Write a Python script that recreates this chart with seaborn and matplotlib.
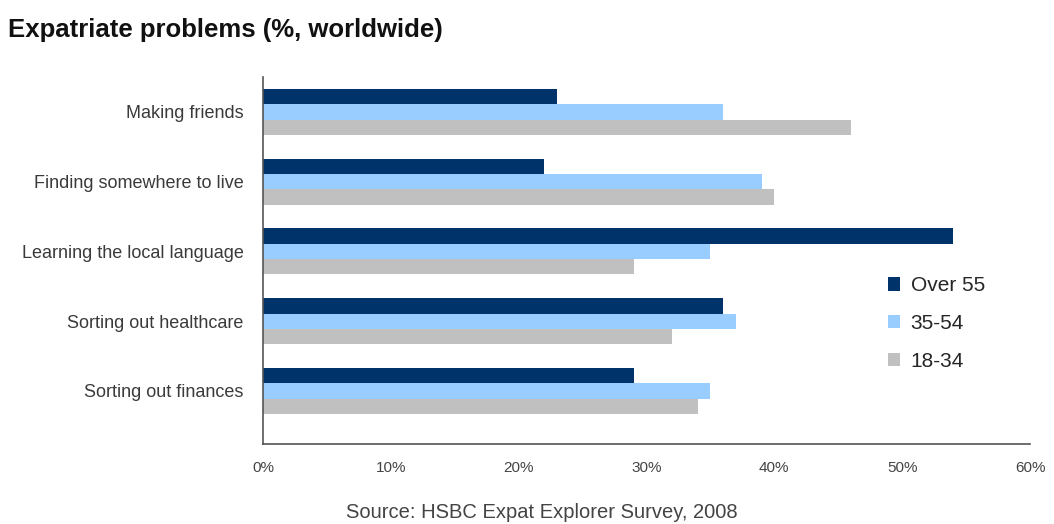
import matplotlib
matplotlib.use("Agg")
import matplotlib.pyplot as plt
from matplotlib.patches import Patch
import seaborn as sns
import pandas as pd
from matplotlib.ticker import FuncFormatter

categories = ["Making friends", "Finding somewhere to live", "Learning the local language",
              "Sorting out healthcare", "Sorting out finances"]
series_names = ["Over 55", "35-54", "18-34"]
over_55 = [23, 22, 54, 36, 29]
age_35_54 = [36, 39, 35, 37, 35]
age_18_34 = [46, 40, 29, 32, 34]
x_ticks = [0, 10, 20, 30, 40, 50, 60]
colors = ["#00336a", "#99ccff", "#c0c0c0"]

rows = []
for name, vals in zip(series_names, [over_55, age_35_54, age_18_34]):
    for c, v in zip(categories, vals):
        rows.append({"problem": c, "value": v, "age": name})
df = pd.DataFrame(rows)

sns.set_style("white")
plt.rcParams["font.family"] = ["Liberation Sans", "DejaVu Sans"]

fig = plt.figure(figsize=(10.54, 5.24), dpi=100)
ax = fig.add_axes([263/1054, 1-444/524, (1030-263)/1054, (444-77)/524])

sns.barplot(data=df, y="problem", x="value", hue="age", orient="h",
            order=categories, hue_order=series_names, palette=colors,
            width=0.66, saturation=1, ax=ax, legend=False, linewidth=0)

ax.set_xlim(0, 60)
ax.set_ylim(4.76, -0.5)
ax.set_xticks(x_ticks)
ax.xaxis.set_major_formatter(FuncFormatter(lambda v, p: f"{v:.0f}%"))
ax.set_yticks([i - 0.5 for i in range(6)], minor=True)
ax.tick_params(axis="y", which="major", length=0, labelsize=13, labelcolor="#3a3a3a", pad=14)
ax.tick_params(axis="y", which="minor", length=5, color="#555555", direction="out", width=1)
ax.tick_params(axis="x", length=5, direction="inout", color="#555555", labelsize=11,
               labelcolor="#444444", pad=10)
ax.set_xlabel("")
ax.set_ylabel("")
for s in ["top", "right"]:
    ax.spines[s].set_visible(False)
for s in ["left", "bottom"]:
    ax.spines[s].set_color("#555555")
    ax.spines[s].set_linewidth(1.2)

handles = [Patch(facecolor=c, edgecolor="none", label=n) for c, n in zip(colors, series_names)]
ax.legend(handles=handles, loc="upper left", bbox_to_anchor=(0.79, 0.508),
          frameon=False, fontsize=15, handlelength=0.6, handleheight=0.6,
          labelspacing=0.9, handletextpad=0.5)

fig.text(8/1054, 1-30/524, "Expatriate problems (%, worldwide)", fontsize=18.5,
         fontweight="bold", color="#111111", va="center", ha="left")
fig.text(542/1054, 1-512/524, "Source: HSBC Expat Explorer Survey, 2008", fontsize=14.5,
         color="#444444", va="center", ha="center")

fig.savefig("out.png", dpi=100)
